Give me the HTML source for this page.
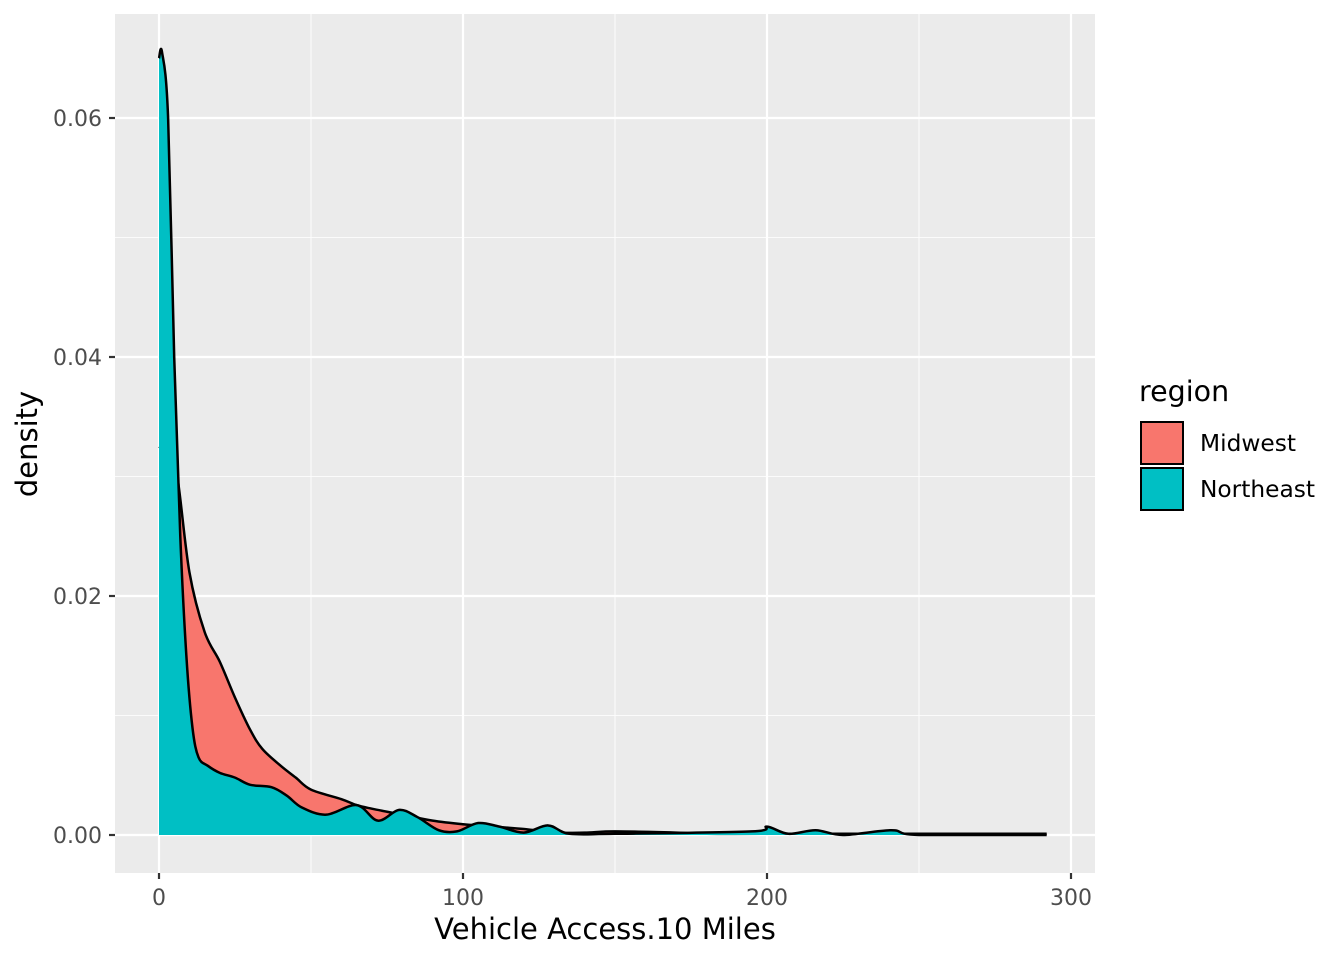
<!DOCTYPE html>
<html><head><meta charset="utf-8"><style>
body{margin:0;background:#fff;}
text{font-family:"DejaVu Sans","Liberation Sans",sans-serif;}
</style></head><body>
<svg id="chart" width="1344" height="960" xmlns="http://www.w3.org/2000/svg">
<rect x="0" y="0" width="1344" height="960" fill="#fff"/>
<rect x="115" y="14" width="980" height="859" fill="#ebebeb"/>
<g id="grid"></g>
<g id="series"></g>
<g id="axes"></g>
<text x="605" y="939" font-size="29" text-anchor="middle" fill="#000">Vehicle Access.10 Miles</text>
<text transform="translate(37,444) rotate(-90)" font-size="29" text-anchor="middle" fill="#000">density</text>
<g>
<text x="1139" y="401" font-size="28.5" fill="#000">region</text>
<rect x="1141" y="422" width="42" height="42" fill="#F8766D" stroke="#000" stroke-width="2"/>
<text x="1200" y="451" font-size="23.3" fill="#000">Midwest</text>
<rect x="1141" y="468" width="42" height="42" fill="#00BFC4" stroke="#000" stroke-width="2"/>
<text x="1200" y="497" font-size="23.3" fill="#000">Northeast</text>
</g>
</svg>
<script>
const xTicks=[0,100,200,300];
const yTicks=[0,0.02,0.04,0.06];
const midwestX=[0,3,6,10,15,20,25,30,34,40,45,50,60,65,70,80,90,100,110,120,130,140,150,170,180,200,250,292];
const midwestY=[0.0325,0.032,0.030,0.022,0.017,0.0145,0.0115,0.0088,0.0072,0.0058,0.0048,0.0038,0.003,0.0025,0.0022,0.0017,0.0012,0.0009,0.0007,0.0005,0.0002,0.0002,0.0003,0.0002,0.0001,0.0001,0.0001,0.0001];
const northeastX=[0,1,3,5,7,9,11,13,16,20,25,30,37,42,47,55,65,72,79,85,92,98,105,112,120,128,135,150,195,200,207,216,225,241,250,292];
const northeastY=[0.065,0.0655,0.060,0.040,0.025,0.015,0.009,0.0065,0.0058,0.0052,0.0048,0.0042,0.004,0.0033,0.0023,0.0017,0.0025,0.0012,0.0021,0.0015,0.0004,0.0003,0.001,0.0007,0.0002,0.0008,0.0001,0.0001,0.0003,0.0007,0.0001,0.0004,0,0.0004,0,0];
const NS="http://www.w3.org/2000/svg";
const sx=v=>159+v*3.04;
const sy=v=>835-v*11950;
function mk(tag,attrs,parent){const e=document.createElementNS(NS,tag);for(const k in attrs)e.setAttribute(k,attrs[k]);parent.appendChild(e);return e;}
const grid=document.getElementById('grid'),axes=document.getElementById('axes'),series=document.getElementById('series');
for(let i=0;i<xTicks.length-1;i++){const v=(xTicks[i]+xTicks[i+1])/2;const l=mk('line',{x1:sx(v),x2:sx(v),y1:14,y2:873,stroke:'#fff','stroke-width':1.1,opacity:0.8},grid);

}
for(let i=0;i<yTicks.length-1;i++){const v=(yTicks[i]+yTicks[i+1])/2;const l=mk('line',{y1:sy(v),y2:sy(v),x1:115,x2:1095,stroke:'#fff','stroke-width':1.1,opacity:0.8},grid);

}
xTicks.forEach(v=>{const l=mk('line',{x1:sx(v),x2:sx(v),y1:14,y2:873,stroke:'#fff','stroke-width':2.2},grid);


const t=mk('line',{x1:sx(v),x2:sx(v),y1:873,y2:879,stroke:'#333','stroke-width':2.2},axes);


const tx=mk('text',{x:sx(v),y:905,'font-size':22,'text-anchor':'middle',fill:'#4d4d4d'},axes);tx.textContent=v;

});
yTicks.forEach(v=>{const l=mk('line',{y1:sy(v),y2:sy(v),x1:115,x2:1095,stroke:'#fff','stroke-width':2.2},grid);


const t=mk('line',{y1:sy(v),y2:sy(v),x1:109,x2:115,stroke:'#333','stroke-width':2.2},axes);


const tx=mk('text',{x:102,y:sy(v)+8,'font-size':22,'text-anchor':'end',fill:'#4d4d4d'},axes);tx.textContent=v.toFixed(2);

});
function smooth(pts){
 let d='';
 for(let i=0;i<pts.length-1;i++){
  const p0=pts[Math.max(0,i-1)],p1=pts[i],p2=pts[i+1],p3=pts[Math.min(pts.length-1,i+2)];
  const c1x=p1[0]+(p2[0]-p0[0])/6,c1y=Math.min(835,p1[1]+(p2[1]-p0[1])/6);
  const c2x=p2[0]-(p3[0]-p1[0])/6,c2y=Math.min(835,p2[1]-(p3[1]-p1[1])/6);
  d+=' C'+c1x+','+c1y+' '+c2x+','+c2y+' '+p2[0]+','+p2[1];
 }
 return d;
}
function area(xs,ys,fill,name){
 const pts=xs.map((x,i)=>[sx(x),sy(ys[i])]);
 const curve=smooth(pts);
 const d='M'+sx(xs[0])+','+sy(0)+' L'+pts[0][0]+','+pts[0][1]+curve+' L'+sx(xs[xs.length-1])+','+sy(0)+' Z';
 const p=mk('path',{d:d,fill:fill,stroke:'none'},series);
 
 
 const l=mk('path',{d:'M'+pts[0][0]+','+pts[0][1]+curve,fill:'none',stroke:'#000','stroke-width':2.5,'stroke-linejoin':'round'},series);
 
 
}
area(midwestX,midwestY,'#F8766D','midwest-density');
area(northeastX,northeastY,'#00BFC4','northeast-density');
</script>
</body></html>
